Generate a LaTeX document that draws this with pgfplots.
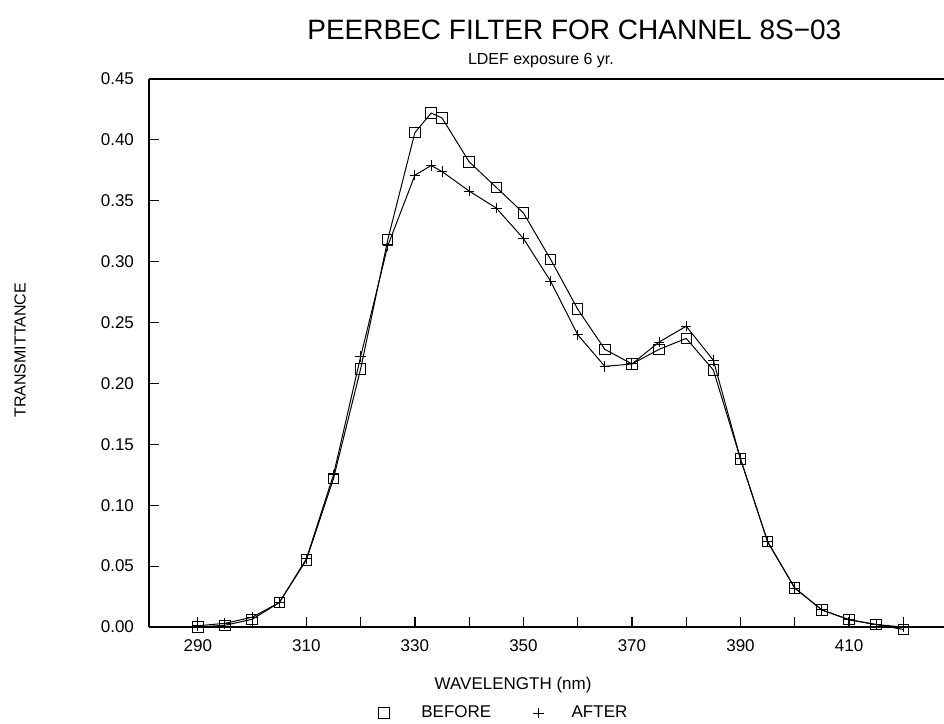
\documentclass[border=0pt]{standalone}
\usepackage{fontspec}
\setmainfont{Liberation Sans}
\usepackage{pgfplots}
\pgfplotsset{compat=1.18}

\pgfplotstableread{
lambda  before
290  0.000
295  0.0014
300  0.0063
305  0.020
310  0.055
315  0.122
320  0.212
325  0.318
330  0.406
333  0.422
335  0.418
340  0.382
345  0.361
350  0.340
355  0.302
360  0.261
365  0.228
370  0.216
375  0.228
380  0.237
385  0.211
390  0.138
395  0.070
400  0.032
405  0.014
410  0.006
415  0.002
420  -0.002
}\beforetab

\pgfplotstableread{
lambda  after
290  0.001
295  0.003
300  0.008
305  0.020
310  0.056
315  0.125
320  0.222
325  0.313
330  0.371
333  0.379
335  0.374
340  0.358
345  0.344
350  0.319
355  0.284
360  0.240
365  0.214
370  0.216
375  0.234
380  0.247
385  0.219
390  0.138
395  0.070
400  0.032
405  0.014
410  0.006
415  0.002
420  0.000
}\aftertab

\begin{document}
\begin{tikzpicture}
\useasboundingbox (0pt,0pt) rectangle (472pt,362pt);
\begin{axis}[
    at={(74.5pt,48.5pt)}, anchor=south west,
    scale only axis,
    width=397.5pt, height=274pt,
    xmin=281, xmax=427.5,
    ymin=0, ymax=0.45,
    clip=false,
    axis x line=box, axis y line=left,
    axis line style={-, line width=0.8pt},
    tick align=inside,
    xtick pos=bottom, ytick pos=left,
    major tick length=5pt,
    tick style={line width=0.6pt, black},
    xtick={290,300,...,420},
    xticklabels={290,,310,,330,,350,,370,,390,,410,},
    ytick={0,0.05,...,0.45},
    yticklabels={0.00,0.05,0.10,0.15,0.20,0.25,0.30,0.35,0.40,0.45},
    ticklabel style={font=\fontsize{8.5}{10}\selectfont},
    yticklabel style={xshift=-4pt},
    xticklabel style={yshift=-3pt},
    legend columns=2,
    legend style={draw=none, fill=none, font=\fontsize{8.5}{10}\selectfont,
        at={(0.448,-0.157)}, anchor=center,
        /tikz/every even column/.append style={column sep=19pt}},
    legend image code/.code={\draw[#1, only marks] plot coordinates {(0.3cm,0cm)};},
]
\addplot[black, line width=0.5pt, mark=square, mark size=2.6pt,
    mark options={solid, line width=0.5pt}] table[x=lambda, y=before] {\beforetab};
\addlegendentry{\hspace{14pt}BEFORE}
\addplot[black, line width=0.5pt, mark=+, mark size=2.6pt,
    mark options={solid, line width=0.5pt}] table[x=lambda, y=after] {\aftertab};
\addlegendentry{\hspace{12pt}AFTER}

\node[font=\fontsize{14}{16}\selectfont] at (axis description cs:0.535,1.089) {PEERBEC FILTER FOR CHANNEL 8S−03};
\node[font=\fontsize{8}{10}\selectfont] at (axis description cs:0.493,1.034) {LDEF exposure 6 yr.};
\node[font=\fontsize{8.5}{10}\selectfont] at (axis description cs:0.458,-0.106) {WAVELENGTH (nm)};
\node[font=\fontsize{8}{10}\selectfont, rotate=90] at (axis description cs:-0.162,0.505) {TRANSMITTANCE};
\end{axis}
\end{tikzpicture}
\end{document}
